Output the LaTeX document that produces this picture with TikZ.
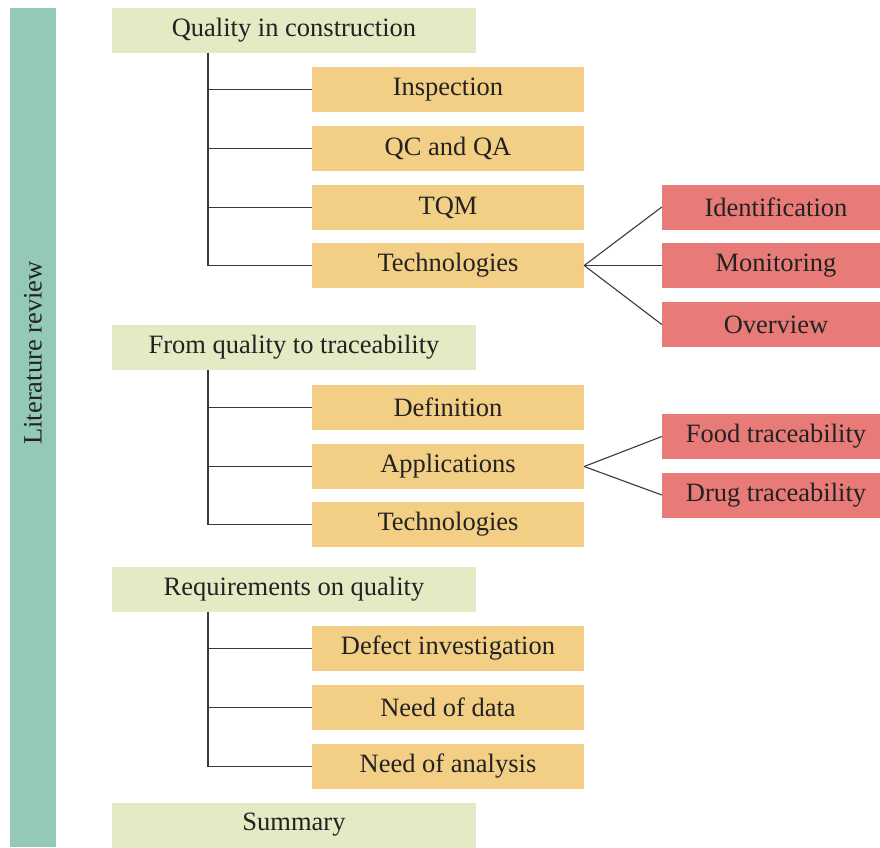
\documentclass[tikz,border=0pt]{standalone}
\usepackage{fontspec}
\setmainfont{Liberation Serif}
\definecolor{gfill}{HTML}{E2EBC4}
\definecolor{ofill}{HTML}{F2CF85}
\definecolor{rfill}{HTML}{E87B78}
\definecolor{bfill}{HTML}{93C9B5}
\definecolor{ink}{HTML}{222222}
\definecolor{lin}{HTML}{3A3A3A}
\begin{document}
\begin{tikzpicture}[x=1pt,y=-1pt,
  base/.style={inner sep=0pt, text=ink, font=\fontsize{26.5}{30}\selectfont, minimum height=45pt},
  gbox/.style={base, fill=gfill, minimum width=364pt},
  obox/.style={base, fill=ofill, minimum width=272pt},
  rbox/.style={base, fill=rfill, minimum width=228pt},
  conn/.style={draw=lin, line width=1.1pt}]
\useasboundingbox (0,0) rectangle (880,847);
\clip (0,0) rectangle (880,847);
% side bar
\node[fill=bfill, minimum width=46pt, minimum height=839pt, inner sep=0pt] (bar) at (33,427.5) {};
\node[rotate=90, text=ink, font=\fontsize{26.5}{30}\selectfont, inner sep=0pt] (lr) at (33,353) {Literature review};
% section 1
\node[gbox] (q) at (294,30) {Quality in construction};
\node[obox] (insp) at (448,89.5) {Inspection};
\node[obox] (qc) at (448,148.5) {QC and QA};
\node[obox] (tqm) at (448,207.5) {TQM};
\node[obox] (tech1) at (448,265.5) {Technologies};
\node[rbox] (ident) at (776,207) {Identification};
\node[rbox] (mon) at (776,265.5) {Monitoring};
\node[rbox] (ovw) at (776,324.5) {Overview};
% section 2
\node[gbox] (fq) at (294,347) {From quality to traceability};
\node[obox] (def) at (448,407.5) {Definition};
\node[obox] (app) at (448,466.5) {Applications};
\node[obox] (tech2) at (448,524.5) {Technologies};
\node[rbox] (food) at (776,436.5) {Food traceability};
\node[rbox] (drug) at (776,495) {Drug traceability};
% section 3
\node[gbox] (req) at (294,589) {Requirements on quality};
\node[obox] (defect) at (448,648.5) {Defect investigation};
\node[obox] (data) at (448,707.5) {Need of data};
\node[obox] (ana) at (448,766.5) {Need of analysis};
% summary
\node[gbox] (sum) at (294,825) {Summary};
% connectors
\coordinate (c1) at (208,52.5);
\coordinate (c2) at (208,369.5);
\coordinate (c3) at (208,611.5);
\draw[conn] (c1) |- (tech1.west);
\draw[conn] (c1 |- insp.west) -- (insp.west);
\draw[conn] (c1 |- qc.west) -- (qc.west);
\draw[conn] (c1 |- tqm.west) -- (tqm.west);
\draw[conn] (c2) |- (tech2.west);
\draw[conn] (c2 |- def.west) -- (def.west);
\draw[conn] (c2 |- app.west) -- (app.west);
\draw[conn] (c3) |- (ana.west);
\draw[conn] (c3 |- defect.west) -- (defect.west);
\draw[conn] (c3 |- data.west) -- (data.west);
\draw[conn] (tech1.east) -- (ident.west);
\draw[conn] (tech1.east) -- (mon.west);
\draw[conn] (tech1.east) -- (ovw.west);
\draw[conn] (app.east) -- (food.west);
\draw[conn] (app.east) -- (drug.west);
\end{tikzpicture}
\end{document}
